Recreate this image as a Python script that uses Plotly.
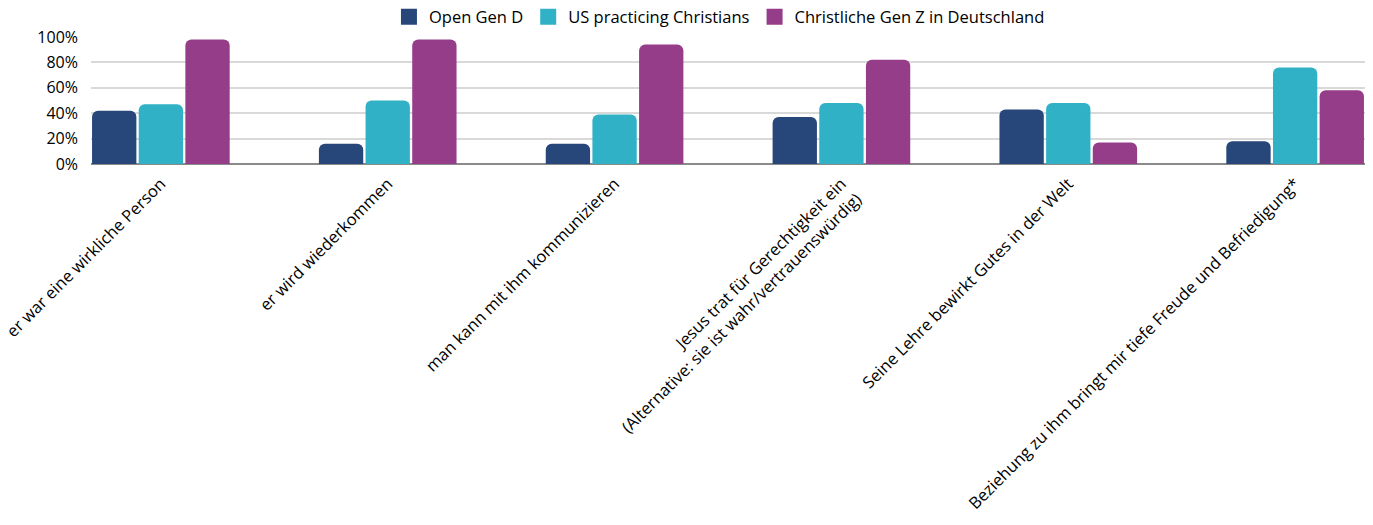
import plotly.graph_objects as go

categories = [
    "er war eine wirkliche Person",
    "er wird wiederkommen",
    "man kann mit ihm kommunizieren",
    "Jesus trat für Gerechtigkeit ein<br>(Alternative: sie ist wahr/vertrauenswürdig)",
    "Seine Lehre bewirkt Gutes in der Welt",
    "Beziehung zu ihm bringt mir tiefe Freude und Befriedigung*",
]
open_gen_d = [0.42, 0.16, 0.16, 0.37, 0.43, 0.18]
us_practicing = [0.47, 0.50, 0.39, 0.48, 0.48, 0.76]
gen_z_de = [0.98, 0.98, 0.94, 0.82, 0.17, 0.58]

series_names = ["Open Gen D", "US practicing Christians", "Christliche Gen Z in Deutschland"]
series_colors = ["#27467a", "#31b1c6", "#963d8a"]
y_ticks = [0, 0.2, 0.4, 0.6, 0.8, 1.0]
y_tick_labels = ["0%", "20%", "40%", "60%", "80%", "100%"]

FONT = "Open Sans, Lato, sans-serif"

fig = go.Figure()
for name, vals, col in zip(series_names, [open_gen_d, us_practicing, gen_z_de], series_colors):
    fig.add_trace(go.Bar(x=categories, y=vals, name=name, showlegend=False,
                         marker=dict(color=col, line=dict(width=0))))
# legend entries with large square swatches
for name, col in zip(series_names, series_colors):
    fig.add_trace(go.Scatter(x=[None], y=[None], mode="markers", name=name,
                             marker=dict(symbol="square", size=18, color=col),
                             showlegend=True, hoverinfo="skip"))

fig.update_layout(
    width=1373, height=525,
    paper_bgcolor="white", plot_bgcolor="white",
    margin=dict(l=91, r=8, t=37, b=361, autoexpand=False),
    barmode="group", bargap=0.383, bargroupgap=0.05,
    barcornerradius=6,
    font=dict(family=FONT, size=15, color="#000000"),
    legend=dict(orientation="h", xref="container", x=0.524, xanchor="center",
                yref="container", y=1 - 17 / 525, yanchor="middle",
                font=dict(size=16.5, color="#000000", family=FONT, weight=500),
                traceorder="normal", itemclick=False, itemwidth=30,
                tracegroupgap=0),
    showlegend=True,
)
fig.update_xaxes(
    type="category", range=[-0.308, 5.308], tickangle=-45,
    showgrid=False, showline=False, ticks="", automargin=False,
    ticklabelstandoff=6,
    tickfont=dict(size=16.5, color="#000000", family=FONT, weight=500),
)
fig.update_yaxes(
    range=[0, 1.0], tickvals=y_ticks, ticktext=y_tick_labels,
    showgrid=True, gridcolor="#d9d9d9", gridwidth=1.5,
    zeroline=True, zerolinecolor="#8a8a8a", zerolinewidth=1.5,
    showline=False, ticks="", ticklabelstandoff=12, automargin=False,
    tickfont=dict(size=16, color="#000000", family=FONT, weight=500),
)

fig.write_html("out.html", config={"displayModeBar": False},
               post_script="document.body.style.margin='0';document.body.style.overflow='hidden';")
